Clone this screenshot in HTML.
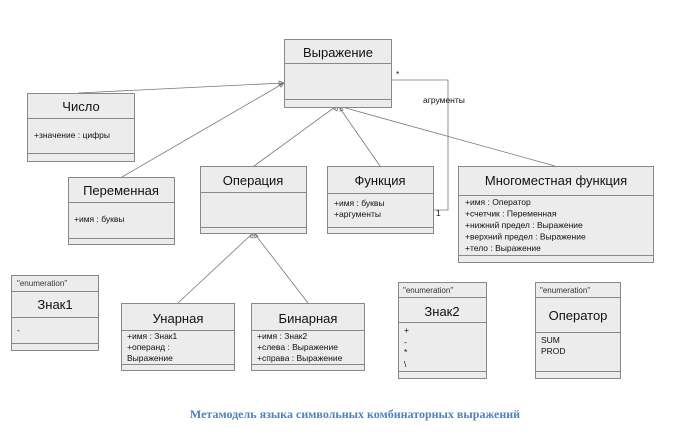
<!DOCTYPE html>
<html><head><meta charset="utf-8"><style>
html,body{margin:0;padding:0;background:#fff;width:686px;height:442px;overflow:hidden}
svg{display:block}
text{font-family:"Liberation Sans","DejaVu Sans",sans-serif;fill:#111}
.t{font-size:13px;text-anchor:middle}
.a{font-size:8.5px}
.s{font-size:8px;fill:#333}
rect{fill:#ececec;stroke:#888;stroke-width:1}
line.d{stroke:#888;stroke-width:1}
.e{stroke:#777;stroke-width:0.8;fill:none}
</style></head><body>
<svg width="686" height="442" viewBox="0 0 686 442" xmlns="http://www.w3.org/2000/svg">
<polyline class="e" points="78,93 284,83"/>
<polyline class="e" points="122,177 284,83"/>
<polyline class="e" points="254,166 335,107"/>
<polyline class="e" points="380,166 339,107"/>
<polyline class="e" points="555,166 342,107"/>
<polyline class="e" points="391,80 448,80 448,210 433,210"/>
<polyline class="e" points="178,303 253,233"/>
<polyline class="e" points="308,303 254,233"/>
<g class="e">
<polygon points="284,83 279,81 279,85"/>
<polygon points="284,83 280,84 281,87"/>
<polygon points="338,107 334,109 337,111"/>
<polygon points="341,107 340,111 343,110"/>
<polygon points="253,233 250,237 253,238"/>
<polygon points="254,233 255,238 258,236"/>
</g>
<text x="396" y="77" class="a">*</text>
<text x="423" y="103" class="a">агрументы</text>
<text x="436" y="216" class="a">1</text>

<rect x="284.5" y="39.5" width="107" height="68"/>
<line class="d" x1="284" y1="63.5" x2="392" y2="63.5"/><line class="d" x1="284" y1="99.5" x2="392" y2="99.5"/>
<text x="338" y="57" class="t">Выражение</text>

<rect x="27.5" y="93.5" width="107" height="68"/>
<line class="d" x1="27" y1="118.5" x2="135" y2="118.5"/><line class="d" x1="27" y1="153.5" x2="135" y2="153.5"/>
<text x="81" y="111" class="t">Число</text>
<text x="34" y="138" class="a">+значение : цифры</text>

<rect x="68.5" y="177.5" width="106" height="67"/>
<line class="d" x1="68" y1="202.5" x2="175" y2="202.5"/><line class="d" x1="68" y1="238.5" x2="175" y2="238.5"/>
<text x="121" y="195" class="t">Переменная</text>
<text x="74" y="222" class="a">+имя : буквы</text>

<rect x="200.5" y="166.5" width="106" height="67"/>
<line class="d" x1="200" y1="192.5" x2="307" y2="192.5"/><line class="d" x1="200" y1="227.5" x2="307" y2="227.5"/>
<text x="253" y="185" class="t">Операция</text>

<rect x="327.5" y="166.5" width="106" height="67"/>
<line class="d" x1="327" y1="193.5" x2="434" y2="193.5"/><line class="d" x1="327" y1="227.5" x2="434" y2="227.5"/>
<text x="380" y="185" class="t">Функция</text>
<text x="334" y="206" class="a">+имя : буквы</text>
<text x="334" y="217" class="a">+аргументы</text>

<rect x="458.5" y="166.5" width="195" height="96"/>
<line class="d" x1="458" y1="195.5" x2="654" y2="195.5"/><line class="d" x1="458" y1="255.5" x2="654" y2="255.5"/>
<text x="556" y="185" class="t">Многоместная функция</text>
<text x="465" y="205" class="a">+имя : Оператор</text>
<text x="465" y="216.5" class="a">+счетчик : Переменная</text>
<text x="465" y="228" class="a">+нижний предел : Выражение</text>
<text x="465" y="239.5" class="a">+верхний предел : Выражение</text>
<text x="465" y="251" class="a">+тело : Выражение</text>

<rect x="11.5" y="275.5" width="87" height="75"/>
<line class="d" x1="11" y1="291.5" x2="99" y2="291.5"/><line class="d" x1="11" y1="317.5" x2="99" y2="317.5"/><line class="d" x1="11" y1="343.5" x2="99" y2="343.5"/>
<text x="17" y="286" class="s">"enumeration"</text>
<text x="55" y="309" class="t">Знак1</text>
<text x="17" y="333" class="a">-</text>

<rect x="121.5" y="303.5" width="113" height="67"/>
<line class="d" x1="121" y1="330.5" x2="235" y2="330.5"/><line class="d" x1="121" y1="364.5" x2="235" y2="364.5"/>
<text x="178" y="323" class="t">Унарная</text>
<text x="127" y="339" class="a">+имя : Знак1</text>
<text x="127" y="350" class="a">+операнд :</text>
<text x="127" y="361" class="a">Выражение</text>

<rect x="251.5" y="303.5" width="113" height="67"/>
<line class="d" x1="251" y1="330.5" x2="365" y2="330.5"/><line class="d" x1="251" y1="364.5" x2="365" y2="364.5"/>
<text x="308" y="323" class="t">Бинарная</text>
<text x="257" y="339" class="a">+имя : Знак2</text>
<text x="257" y="350" class="a">+слева : Выражение</text>
<text x="257" y="361" class="a">+справа : Выражение</text>

<rect x="398.5" y="282.5" width="88" height="96"/>
<line class="d" x1="398" y1="297.5" x2="487" y2="297.5"/><line class="d" x1="398" y1="322.5" x2="487" y2="322.5"/><line class="d" x1="398" y1="371.5" x2="487" y2="371.5"/>
<text x="403" y="293" class="s">"enumeration"</text>
<text x="442" y="316" class="t">Знак2</text>
<text x="404" y="333" class="a">+</text>
<text x="404" y="345" class="a">-</text>
<text x="404" y="355" class="a">*</text>
<text x="404" y="367" class="a">\</text>

<rect x="535.5" y="282.5" width="85" height="96"/>
<line class="d" x1="535" y1="297.5" x2="621" y2="297.5"/><line class="d" x1="535" y1="332.5" x2="621" y2="332.5"/><line class="d" x1="535" y1="371.5" x2="621" y2="371.5"/>
<text x="540" y="293" class="s">"enumeration"</text>
<text x="578" y="320" class="t">Оператор</text>
<text x="541" y="343" class="a">SUM</text>
<text x="541" y="354" class="a">PROD</text>

<text x="355" y="418" style="font-family:'Liberation Serif','DejaVu Serif',serif;font-size:12px;font-weight:bold;fill:#4f81bd;text-anchor:middle">Метамодель языка символьных комбинаторных выражений</text>
</svg>
</body></html>
